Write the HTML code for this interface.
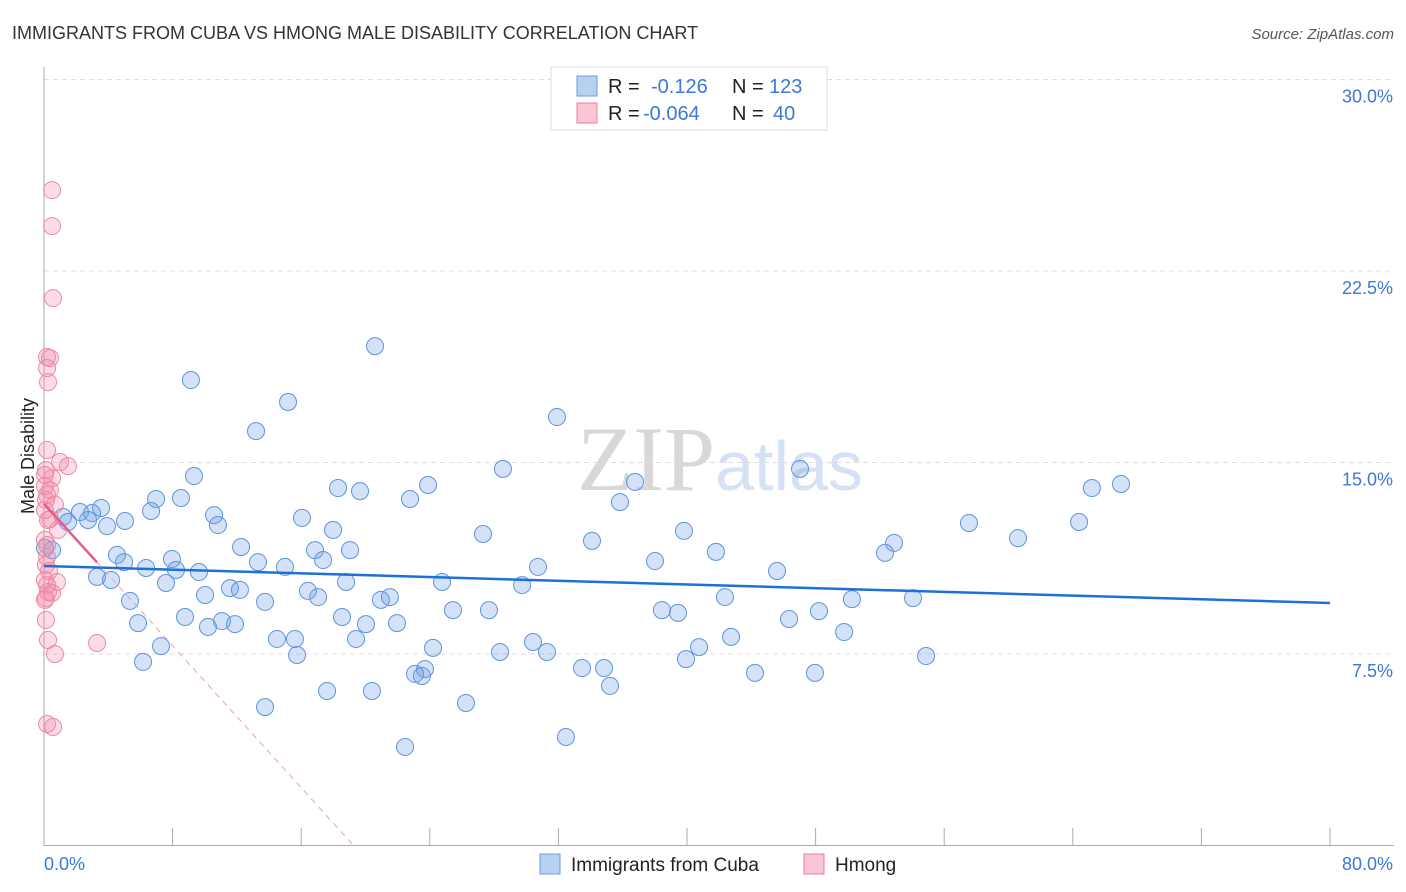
<!DOCTYPE html>
<html><head><meta charset="utf-8">
<style>
body{margin:0;background:#fff;font-family:"Liberation Sans",sans-serif;}
svg{display:block}
</style></head>
<body>
<svg id="chart" width="1406" height="892" xmlns="http://www.w3.org/2000/svg">
<text x="12" y="39" font-size="18" fill="#333">IMMIGRANTS FROM CUBA VS HMONG MALE DISABILITY CORRELATION CHART</text>
<text x="1394" y="39" font-size="15" fill="#555" text-anchor="end" font-style="italic">Source: ZipAtlas.com</text>
<text x="720" y="490" font-size="92" fill="#ddd" text-anchor="middle" font-family="Liberation Serif"><tspan fill="#d8d8d8">ZIP</tspan><tspan fill="#d4e2f4" font-family="Liberation Sans" font-size="70">atlas</tspan></text>
<text transform="translate(34,456) rotate(-90)" font-size="18" fill="#222" text-anchor="middle">Male Disability</text>
<g id="grid"></g>
<g id="marks"></g>
<g>
<rect x="551" y="67" width="276" height="63" fill="#fff" stroke="#ddd"/>
<rect x="577" y="76" width="20" height="20" fill="#b8d0f2" stroke="#6c9be0"/>
<text x="608" y="93" font-size="20" fill="#222">R = </text><text x="651" y="93" font-size="20" fill="#3b78d8">-0.126</text>
<text x="732" y="93" font-size="20" fill="#222">N = </text><text x="769" y="93" font-size="20" fill="#3b78d8">123</text>
<rect x="577" y="103" width="20" height="20" fill="#f8c6d4" stroke="#e8809c"/>
<text x="608" y="120" font-size="20" fill="#222">R = </text><text x="643" y="120" font-size="20" fill="#3b78d8">-0.064</text>
<text x="732" y="120" font-size="20" fill="#222">N = </text><text x="773" y="120" font-size="20" fill="#3b78d8">40</text>
</g>
<g>
<rect x="540" y="854" width="20" height="20" fill="#b8d0f2" stroke="#6c9be0"/>
<text x="571" y="871" font-size="19" fill="#222">Immigrants from Cuba</text>
<rect x="804" y="854" width="20" height="20" fill="#f8c6d4" stroke="#e8809c"/>
<text x="835" y="871" font-size="19" fill="#222">Hmong</text>
</g>
</svg>
<script>
const yTicks=[7.5,15.0,22.5,30.0];
const xTickLabels=["0.0%","80.0%"];
const cubaX=[20.59,9.14,15.18,13.19,31.91,9.33,28.55,47.03,67.00,65.19,18.29,19.66,23.89,36.77,6.97,8.52,22.77,35.83,6.66,3.55,2.24,2.99,1.18,1.49,2.74,5.04,3.92,10.58,10.82,16.05,17.98,27.31,39.81,57.54,64.39,60.59,34.09,52.88,52.32,0.50,0.06,12.26,16.86,19.04,41.80,4.54,7.96,4.98,13.31,14.99,17.36,38.01,6.35,8.21,9.64,30.73,45.60,3.30,4.17,7.59,11.57,12.19,18.79,24.76,29.74,16.42,17.05,10.02,5.35,13.75,20.96,21.52,42.36,50.26,54.06,25.44,27.68,38.44,39.44,48.21,8.77,11.07,11.88,10.20,5.85,18.54,20.03,21.96,46.35,49.77,14.49,15.61,19.41,42.74,30.42,7.28,24.20,31.29,40.75,28.37,15.74,39.94,6.16,54.87,33.47,34.84,23.70,23.08,23.51,44.23,47.96,35.21,17.61,20.40,26.25,13.75,32.47,22.46];
const cubaY=[19.56,18.23,17.37,16.23,16.78,14.47,14.75,14.75,14.16,14.00,14.00,13.88,14.12,14.24,13.57,13.61,13.57,13.45,13.10,13.22,13.06,13.02,12.87,12.67,12.75,12.71,12.51,12.94,12.55,12.83,12.36,12.20,12.32,12.63,12.67,12.04,11.93,11.85,11.46,11.57,11.65,11.69,11.57,11.57,11.50,11.38,11.22,11.10,11.10,10.91,11.18,11.14,10.87,10.79,10.71,10.91,10.75,10.52,10.40,10.28,10.08,10.01,10.32,10.32,10.20,9.97,9.73,9.81,9.58,9.54,9.62,9.73,9.73,9.65,9.69,9.22,9.22,9.22,9.11,9.18,8.95,8.79,8.67,8.56,8.71,8.95,8.67,8.71,8.87,8.36,8.09,8.09,8.09,8.17,7.97,7.81,7.74,7.58,7.77,7.58,7.46,7.30,7.19,7.42,6.95,6.95,6.91,6.72,6.64,6.76,6.76,6.25,6.05,6.05,5.58,5.42,4.25,3.86];
const hmongX=[0.50,0.50,0.56,0.19,0.37,0.19,0.25,0.19,1.00,1.49,0.12,0.50,0.06,0.19,0.12,0.06,0.37,0.87,0.06,0.19,0.12,0.06,0.19,0.25,0.12,0.50,0.81,0.25,0.68,3.30,0.19,0.56,0.06,0.19,0.25,0.06,0.37,0.68,0.12,0.31];
const hmongY=[25.67,24.26,21.44,19.13,19.09,18.70,18.15,15.49,15.02,14.86,14.70,14.39,14.08,13.73,13.53,13.14,12.79,12.36,11.97,11.30,10.99,10.40,10.20,9.93,9.69,9.89,10.32,8.05,7.50,7.93,4.76,4.64,9.62,11.77,12.75,14.51,13.92,13.35,8.83,10.75];

const NS="http://www.w3.org/2000/svg";
const X0=44,X1=1330,Y0=845.5,YPER=25.533;
function sx(v){return X0+(v/80)*(X1-X0);}
function sy(v){return Y0-v*YPER;}
function mk(tag,attrs,parent){const e=document.createElementNS(NS,tag);for(const k in attrs)e.setAttribute(k,attrs[k]);parent.appendChild(e);return e;}
const grid=document.getElementById('grid'),marks=document.getElementById('marks');

for(const t of yTicks){
  const g=mk('line',{x1:X0,x2:1394,y1:sy(t),y2:sy(t),stroke:'#ddd','stroke-dasharray':'5,4'},grid);
  
  
  const lb=mk('text',{x:1393,y:sy(t)+23,'font-size':18,fill:'#3b78d8','text-anchor':'end'},grid);
  lb.textContent=t.toFixed(1)+'%';
  
  
}
const ya=mk('line',{x1:X0,x2:X0,y1:67,y2:846,stroke:'#aaa'},grid);


const xa=mk('line',{x1:X0,x2:1394,y1:845.5,y2:845.5,stroke:'#aaa'},grid);


for(let i=1;i<=10;i++){
  const tk=mk('line',{x1:sx(i*8),x2:sx(i*8),y1:828,y2:845,stroke:'#aaa'},grid);
  
  
}
const xl0=mk('text',{x:44,y:870,'font-size':18,fill:'#3b78d8'},grid);xl0.textContent=xTickLabels[0];


const xl1=mk('text',{x:1393,y:870,'font-size':18,fill:'#3b78d8','text-anchor':'end'},grid);xl1.textContent=xTickLabels[1];



function reg(xs,ys){const n=xs.length;let mx=0,my=0;for(let i=0;i<n;i++){mx+=xs[i];my+=ys[i];}mx/=n;my/=n;let sxy=0,sxx=0;for(let i=0;i<n;i++){sxy+=(xs[i]-mx)*(ys[i]-my);sxx+=(xs[i]-mx)**2;}const b=sxy/sxx;return {a:my-b*mx,b};}

for(let i=0;i<cubaX.length;i++){
  const c=mk('circle',{cx:sx(cubaX[i]),cy:sy(cubaY[i]),r:8.5,fill:'rgba(110,160,230,0.3)',stroke:'#5e93e0','stroke-width':1},marks);
  
  
}
for(let i=0;i<hmongX.length;i++){
  const c=mk('circle',{cx:sx(hmongX[i]),cy:sy(hmongY[i]),r:8.5,fill:'rgba(245,140,170,0.3)',stroke:'#ec8aa6','stroke-width':1},marks);
  
  
}
const rc=reg(cubaX,cubaY);
const bl=mk('line',{x1:sx(0),y1:sy(rc.a),x2:sx(80),y2:sy(rc.a+rc.b*80),stroke:'#1f6fd8','stroke-width':2.5},marks);


const rh=reg(hmongX,hmongY);
const hmax=Math.max(...hmongX);
const pl=mk('line',{x1:sx(0),y1:sy(rh.a),x2:sx(hmax),y2:sy(rh.a+rh.b*hmax),stroke:'#e0608a','stroke-width':2.5},marks);


let xz=rh.b<0?Math.min(80,-rh.a/rh.b):80;
const pd=mk('line',{x1:sx(hmax),y1:sy(rh.a+rh.b*hmax),x2:sx(xz),y2:sy(rh.a+rh.b*xz),stroke:'#e8a0b6','stroke-width':1,'stroke-dasharray':'6,5'},marks);


</script>
</body></html>
